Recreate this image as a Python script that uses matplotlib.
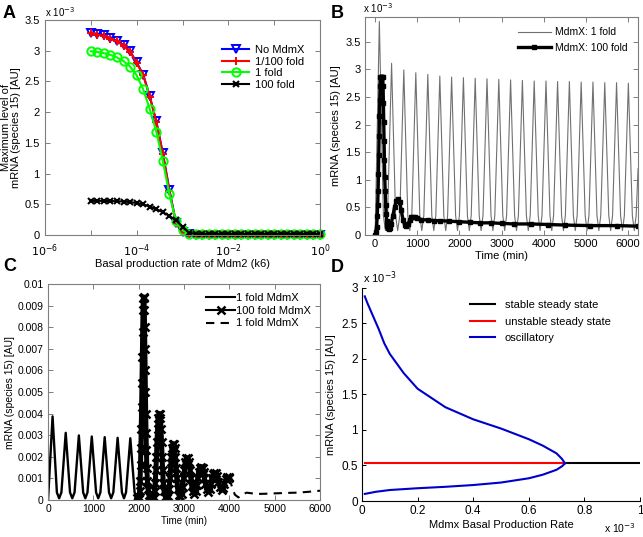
import numpy as np
import matplotlib
matplotlib.use("Agg")
import matplotlib.pyplot as plt
from matplotlib.ticker import FixedLocator, NullFormatter, FuncFormatter

plt.rcParams['font.family'] = ['Liberation Sans', 'DejaVu Sans']

# ---------------- Panel A data (values in units of 1e-3) ----------------
k6 = np.logspace(-5, 0, 36)
no_mdmx = [3.29, 3.27, 3.25, 3.20, 3.16, 3.09, 2.99, 2.81, 2.61, 2.26, 1.85, 1.33,
           0.73, 0.20, 0.05, 0.01, 0.005, 0.005, 0.005, 0.005, 0.005, 0.005, 0.005, 0.005,
           0.005, 0.005, 0.005, 0.005, 0.005, 0.005, 0.005, 0.005, 0.005, 0.005, 0.005, 0.005]
fold_1_100 = [3.28, 3.26, 3.24, 3.19, 3.15, 3.08, 2.98, 2.80, 2.60, 2.25, 1.84, 1.32,
              0.72, 0.20, 0.05, 0.01, 0.005, 0.005, 0.005, 0.005, 0.005, 0.005, 0.005, 0.005,
              0.005, 0.005, 0.005, 0.005, 0.005, 0.005, 0.005, 0.005, 0.005, 0.005, 0.005, 0.005]
fold_1 = [2.99, 2.98, 2.96, 2.93, 2.89, 2.83, 2.74, 2.60, 2.37, 2.05, 1.68, 1.20,
          0.66, 0.22, 0.08, 0.02, 0.01, 0.01, 0.01, 0.01, 0.01, 0.01, 0.01, 0.01,
          0.01, 0.01, 0.01, 0.01, 0.01, 0.01, 0.01, 0.01, 0.01, 0.01, 0.01, 0.01]
fold_100 = [0.555, 0.555, 0.555, 0.553, 0.55, 0.545, 0.535, 0.52, 0.50, 0.46, 0.42, 0.37,
            0.31, 0.24, 0.13, 0.04, 0.015, 0.015, 0.015, 0.015, 0.015, 0.015, 0.015, 0.015,
            0.015, 0.015, 0.015, 0.015, 0.015, 0.015, 0.015, 0.015, 0.015, 0.015, 0.015, 0.015]

# ---------------- 1-fold MdmX oscillation (units 1e-3) ----------------
osc1_t = [0, 100, 195, 245, 295,
          390, 485, 535, 585,
          680, 775, 822, 870,
          965, 1060, 1107, 1155,
          1250, 1345, 1392, 1440,
          1535, 1630, 1675, 1720,
          1815, 1910, 1955, 2000,
          2095, 2190, 2235, 2280,
          2375, 2470, 2515, 2560,
          2655, 2750, 2795, 2840,
          2935, 3030, 3075, 3120,
          3215, 3310, 3355, 3400,
          3495, 3590, 3635, 3680,
          3775, 3870, 3915, 3960,
          4055, 4150, 4192, 4235,
          4330, 4425, 4470, 4515,
          4610, 4705, 4750, 4795,
          4890, 4985, 5030, 5075,
          5170, 5265, 5310, 5355,
          5450, 5545, 5590, 5635,
          5730, 5825, 5870, 5915,
          6010, 6105, 6150, 6195, 6240]
osc1_v = [0.0, 3.87, 0.35, 0.08, 0.35,
          3.11, 0.35, 0.08, 0.35,
          2.99, 0.35, 0.08, 0.35,
          2.94, 0.35, 0.08, 0.35,
          2.91, 0.35, 0.08, 0.35,
          2.88, 0.35, 0.08, 0.35,
          2.86, 0.35, 0.08, 0.35,
          2.85, 0.35, 0.08, 0.35,
          2.84, 0.35, 0.08, 0.35,
          2.83, 0.35, 0.08, 0.35,
          2.82, 0.35, 0.08, 0.35,
          2.81, 0.35, 0.08, 0.35,
          2.80, 0.35, 0.08, 0.35,
          2.79, 0.35, 0.08, 0.35,
          2.79, 0.35, 0.08, 0.35,
          2.78, 0.35, 0.08, 0.35,
          2.78, 0.35, 0.08, 0.35,
          2.77, 0.35, 0.08, 0.35,
          2.77, 0.35, 0.08, 0.35,
          2.76, 0.35, 0.08, 0.35,
          2.76, 0.35, 0.08, 0.35,
          2.75, 0.35, 0.08, 0.35, 1.2]

# ---------------- Panel B: 100-fold MdmX (units 1e-3) ----------------
b100_t = [0, 20, 35, 50, 60, 70, 78, 86, 94, 102, 110, 118, 126, 140, 155, 170, 180, 188,
          196, 204, 212, 220, 228, 238, 250, 262, 275, 290, 305, 320,
          350, 380, 420, 460, 500, 540, 580, 620, 660, 700, 740, 780, 820, 860, 900, 950,
          1000, 1100, 1250, 1400, 1550, 1750, 2000, 2250, 2500, 2750, 3000, 3300, 3700,
          4100, 4500, 5100, 5750, 6240]
b100_v = [0.0, 0.05, 0.15, 0.35, 0.55, 0.8, 1.1, 1.45, 1.8, 2.15, 2.45, 2.7, 2.87, 2.87,
          2.87, 2.87, 2.87, 2.7, 2.4, 2.05, 1.7, 1.35, 1.05, 0.8, 0.55, 0.38, 0.25, 0.16,
          0.12, 0.11,
          0.13, 0.2, 0.35, 0.5, 0.62, 0.65, 0.6, 0.45, 0.28, 0.18, 0.17, 0.2,
          0.27, 0.32, 0.33, 0.32, 0.30, 0.28, 0.27, 0.26, 0.26, 0.25, 0.24, 0.23, 0.22,
          0.22, 0.21, 0.20, 0.20, 0.19, 0.18, 0.17, 0.17, 0.16]

# ---------------- Panel C: 100-fold segment and return to 1-fold (units 1e-3) --------
c100_t = [1955, 2000, 2010, 2020, 2030, 2040, 2048, 2056, 2064, 2072, 2080, 2088, 2095,
          2102, 2110, 2118, 2124, 2130, 2136, 2142, 2148, 2155, 2162, 2170, 2180, 2192,
          2206, 2225, 2250, 2280, 2310,
          2330, 2350, 2365, 2380, 2392, 2404, 2416, 2430, 2445, 2465, 2480, 2492, 2504,
          2516, 2528, 2542, 2560, 2585, 2620,
          2650, 2670, 2690, 2705, 2720, 2735, 2750, 2780, 2795, 2810, 2825, 2840, 2860,
          2885, 2920,
          2950, 2970, 2990, 3010, 3030, 3050, 3090, 3110, 3130, 3150, 3170, 3195, 3230,
          3260, 3280, 3300, 3320, 3345, 3380, 3410, 3430, 3450, 3470, 3500, 3535,
          3565, 3590, 3615, 3640, 3670, 3710, 3735, 3760, 3790, 3830,
          3860, 3890, 3920, 3950, 3985, 4000]
c100_v = [0.08, 0.05, 0.15, 0.4, 0.9, 1.6, 2.4, 3.3, 4.3, 5.4, 6.6, 7.8, 8.8,
          9.35, 9.4, 9.35, 8.8, 8.0, 7.0, 6.0, 5.0, 4.0, 3.1, 2.3, 1.5, 0.9,
          0.5, 0.25, 0.12, 0.06, 0.05,
          0.15, 0.4, 0.8, 1.4, 2.0, 2.7, 3.3, 3.8, 4.0, 4.0, 3.8, 3.3, 2.7,
          2.0, 1.4, 0.8, 0.4, 0.15, 0.08,
          0.2, 0.5, 1.0, 1.5, 2.0, 2.4, 2.6, 2.6, 2.4, 2.0, 1.5, 1.0, 0.5,
          0.25, 0.15,
          0.3, 0.6, 1.0, 1.4, 1.75, 1.95, 1.95, 1.75, 1.4, 1.0, 0.65, 0.4, 0.28,
          0.4, 0.7, 1.0, 1.3, 1.5, 1.55, 1.5, 1.3, 1.0, 0.75, 0.5, 0.38,
          0.5, 0.75, 1.0, 1.2, 1.25, 1.25, 1.1, 0.85, 0.6, 0.45,
          0.55, 0.75, 0.95, 1.05, 1.05, 1.0]
cret_t = [4000, 4060, 4120, 4200, 4280, 4380, 4600, 4800, 5040, 5300, 5500, 5750, 6000]
cret_v = [1.0, 0.6, 0.25, 0.12, 0.25, 0.34, 0.28, 0.29, 0.31, 0.33, 0.34, 0.38, 0.43]

# ---------------- Panel D: bifurcation (x and y in units of 1e-3) ----------------
d_up_x = [0.01, 0.02, 0.04, 0.06, 0.08, 0.10, 0.15, 0.20, 0.30, 0.40, 0.50, 0.60, 0.65, 0.70, 0.72, 0.73]
d_up_y = [2.88, 2.78, 2.60, 2.42, 2.22, 2.07, 1.80, 1.58, 1.32, 1.15, 1.02, 0.87, 0.78, 0.67, 0.59, 0.53]
d_lo_x = [0.01, 0.05, 0.10, 0.20, 0.30, 0.40, 0.50, 0.55, 0.60, 0.65, 0.70, 0.72, 0.73]
d_lo_y = [0.10, 0.13, 0.155, 0.18, 0.20, 0.225, 0.26, 0.29, 0.32, 0.37, 0.44, 0.49, 0.53]
d_unstable_x = [0.01, 0.73]
d_stable_x = [0.73, 1.0]
d_ss = 0.53

FRAME = '#7f7f7f'


def matlab_axes(ax, fs=8, xpad=3, ypad=3):
    for s in ax.spines.values():
        s.set_color(FRAME)
        s.set_linewidth(0.8)
    ax.tick_params(which='both', direction='in', top=True, right=True, color=FRAME,
                   labelsize=fs, length=3.5, width=0.7)
    ax.tick_params(axis='x', pad=xpad)
    ax.tick_params(axis='y', pad=ypad)


fig = plt.figure(figsize=(6.43, 5.37), dpi=100)

# ---------------- A ----------------
axA = fig.add_axes([0.070, 0.5624, 0.4277, 0.4004])
axA.plot(k6, no_mdmx, color='blue', lw=1.5, marker='v', ms=6, mfc='none', mew=1.4,
         label='No MdmX', clip_on=False)
axA.plot(k6, fold_1_100, color='red', lw=1.5, marker='+', ms=6, mew=1.4,
         label='1/100 fold', clip_on=False)
axA.plot(k6, fold_1, color='#00ff00', lw=1.5, marker='o', ms=6, mfc='none', mew=1.4,
         label='1 fold', clip_on=False)
axA.plot(k6, fold_100, color='black', lw=1.5, marker='x', ms=4, mew=1.5,
         label='100 fold', clip_on=False)
axA.set_xscale('log')
axA.set_xlim(1e-6, 1)
axA.set_ylim(0, 3.5)
axA.xaxis.set_major_locator(FixedLocator([1e-6, 1e-4, 1e-2, 1]))
axA.xaxis.set_minor_locator(FixedLocator([1e-5, 1e-3, 1e-1]))
axA.xaxis.set_minor_formatter(NullFormatter())
axA.set_xticklabels(['$10^{-6}$', '$10^{-4}$', '$10^{-2}$', '$10^{0}$'])
axA.set_yticks(np.arange(0, 3.51, 0.5))
axA.set_yticklabels(['0', '0.5', '1', '1.5', '2', '2.5', '3', '3.5'])
matlab_axes(axA, 8, xpad=5, ypad=4)
axA.set_xlabel('Basal production rate of Mdm2 (k6)', fontsize=8, labelpad=0)
axA.set_ylabel('Maximum level of\nmRNA (species 15) [AU]', fontsize=8, labelpad=2,
               linespacing=1.0)
axA.legend(loc='upper right', bbox_to_anchor=(0.97, 0.92), frameon=False, fontsize=8,
           handlelength=2.4, labelspacing=0.15, borderpad=0.2, handletextpad=0.5)
fig.text(45 / 643, 1 - 17 / 537, 'x 10$^{-3}$', fontsize=7, ha='left', va='baseline')

# ---------------- B ----------------
axB = fig.add_axes([0.5677, 0.5624, 0.4246, 0.406])
axB.plot(osc1_t, osc1_v, color='#707070', lw=0.8, label='MdmX: 1 fold')
axB.plot(b100_t, b100_v, color='black', lw=2.4, marker='s', ms=2.8, mew=1.0,
         label='MdmX: 100 fold')
axB.set_xlim(-240, 6240)
axB.set_ylim(0, 3.95)
axB.set_xticks(np.arange(0, 6001, 1000))
axB.set_yticks(np.arange(0, 3.51, 0.5))
axB.set_yticklabels(['0', '0.5', '1', '1.5', '2', '2.5', '3', '3.5'])
matlab_axes(axB, 8)
axB.set_xlabel('Time (min)', fontsize=8, labelpad=1)
axB.set_ylabel('mRNA (species 15) [AU]', fontsize=8, labelpad=3)
axB.legend(loc='upper right', frameon=False, fontsize=7.5, handlelength=3.2,
           labelspacing=0.5, borderpad=0.5, handletextpad=0.4)
fig.text(363 / 643, 1 - 13 / 537, 'x 10$^{-3}$', fontsize=7, ha='left', va='baseline')

# ---------------- C ----------------
axC = fig.add_axes([0.0747, 0.0689, 0.423, 0.4022])
t1 = [t for t in osc1_t if t <= 1955]
v1 = [v * 1e-3 for t, v in zip(osc1_t, osc1_v) if t <= 1955]
axC.plot(t1, v1, color='black', lw=1.7, label='1 fold MdmX')
axC.plot(c100_t, [v * 1e-3 for v in c100_v], color='black', lw=3.6, marker='x', ms=5.5,
         mew=1.8, label='100 fold MdmX')
axC.plot(cret_t, [v * 1e-3 for v in cret_v], color='black', lw=1.5, ls=(0, (4, 3)),
         label='1 fold MdmX')
axC.set_xlim(0, 6000)
axC.set_ylim(0, 0.01)
axC.set_xticks(np.arange(0, 6001, 1000))
axC.set_yticks(np.arange(0, 0.01001, 0.001))
axC.yaxis.set_major_formatter(FuncFormatter(lambda v, p: '%g' % round(v, 4)))
matlab_axes(axC, 7.5)
axC.set_xlabel('Time (min)', fontsize=7, labelpad=1)
axC.set_ylabel('mRNA (species 15) [AU]', fontsize=7.5, labelpad=2)
legC = axC.legend(loc='upper right', frameon=False, fontsize=8, handlelength=2.6,
                  labelspacing=0.25, borderpad=0.3, handletextpad=0.1)
for h in legC.get_lines():
    h.set_linewidth(1.5)

# ---------------- D ----------------
axD = fig.add_axes([0.563, 0.067, 0.4323, 0.397])
axD.plot(d_stable_x, [d_ss, d_ss], color='black', lw=1.5, label='stable steady state')
axD.plot(d_unstable_x, [d_ss, d_ss], color='red', lw=1.5, label='unstable steady state')
axD.plot(d_up_x, d_up_y, color='#0000cc', lw=1.5, label='oscillatory')
axD.plot(d_lo_x, d_lo_y, color='#0000cc', lw=1.5)
axD.set_xlim(0, 1)
axD.set_ylim(0, 3)
axD.set_xticks(np.arange(0, 1.01, 0.2))
axD.set_xticklabels(['0', '0.2', '0.4', '0.6', '0.8', '1'])
axD.set_yticks(np.arange(0, 3.01, 0.5))
axD.set_yticklabels(['0', '0.5', '1', '1.5', '2', '2.5', '3'])
for side in ['top', 'right']:
    axD.spines[side].set_visible(False)
for side in ['left', 'bottom']:
    axD.spines[side].set_color('black')
    axD.spines[side].set_linewidth(0.8)
axD.tick_params(which='both', direction='in', top=False, right=False, labelsize=8.5,
                length=3, width=0.7, pad=3)
axD.set_xlabel('Mdmx Basal Production Rate', fontsize=8, labelpad=2)
axD.set_ylabel('mRNA (species 15) [AU]', fontsize=8, labelpad=4)
axD.legend(loc='upper right', bbox_to_anchor=(0.93, 0.99), frameon=False, fontsize=8,
           handlelength=2.2, labelspacing=0.6, borderpad=0.4, handletextpad=0.9)
fig.text(363 / 643, 1 - 283 / 537, 'x 10$^{-3}$', fontsize=8, ha='left', va='baseline')
fig.text(604 / 643, 1 - 533 / 537, 'x 10$^{-3}$', fontsize=7.5, ha='left', va='baseline')

# ---------------- panel letters ----------------
for lab, x, y in [('A', 3, 18), ('B', 331, 18), ('C', 3, 271), ('D', 331, 272)]:
    fig.text(x / 643, 1 - y / 537, lab, fontsize=13, fontweight='bold', ha='left',
             va='baseline')

fig.savefig('out.png', dpi=100)
